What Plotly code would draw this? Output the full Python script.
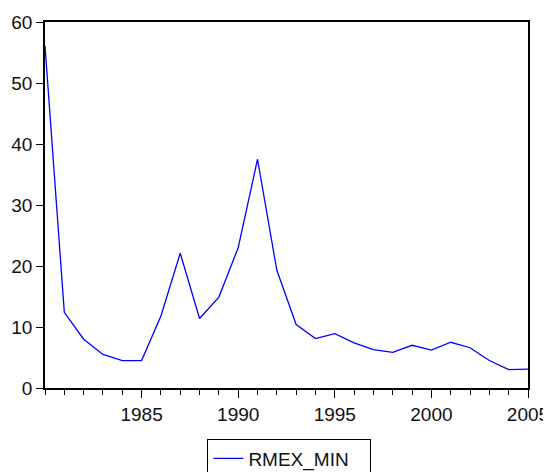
import plotly.graph_objects as go

years = list(range(1980, 2006))
rmex_min = [56.1, 12.4, 8.0, 5.5, 4.5, 4.5, 11.8, 22.1, 11.4, 14.9, 23.0, 37.5,
            19.3, 10.4, 8.1, 8.9, 7.4, 6.3, 5.85, 7.0, 6.2, 7.5, 6.6, 4.5, 3.0, 3.1]
x_ticks = [1985, 1990, 1995, 2000, 2005]
y_ticks = [0, 10, 20, 30, 40, 50, 60]

fig = go.Figure()
fig.add_trace(go.Scatter(x=years, y=rmex_min, mode="lines", name="RMEX_MIN",
                         line=dict(color="#0000FF", width=1.3)))

# page body has an 8px default margin, so offset the margins accordingly;
# the figure is taller than the window so the legend box is cut at the bottom
fig.update_layout(
    width=551, height=500,
    margin=dict(l=37, r=31, t=14, b=120),
    paper_bgcolor="white", plot_bgcolor="white",
    font=dict(family="Liberation Sans, Arial, sans-serif", size=19, color="#111111"),
    showlegend=True,
    legend=dict(x=0.506, xanchor="center", y=-0.138, yanchor="top",
                orientation="h", bordercolor="black", borderwidth=1,
                entrywidth=117, entrywidthmode="pixels",
                font=dict(size=19), bgcolor="white"),
    xaxis=dict(range=[1980, 2005], tickvals=x_ticks, ticktext=[str(v) for v in x_ticks],
               ticks="outside", ticklen=8, tickwidth=1, tickcolor="black",
               showline=True, linecolor="black", linewidth=1.5, mirror=True,
               showgrid=False, zeroline=False, automargin=False,
               minor=dict(ticks="outside", ticklen=5, dtick=1, tick0=1980,
                          tickcolor="black", tickwidth=1, showgrid=False)),
    yaxis=dict(range=[0, 60], tickvals=y_ticks,
               ticks="outside", ticklen=7, tickwidth=1, tickcolor="black",
               showline=True, linecolor="black", linewidth=1.5, mirror=True,
               showgrid=False, zeroline=False, automargin=False),
)

fig.write_html("out.html")
